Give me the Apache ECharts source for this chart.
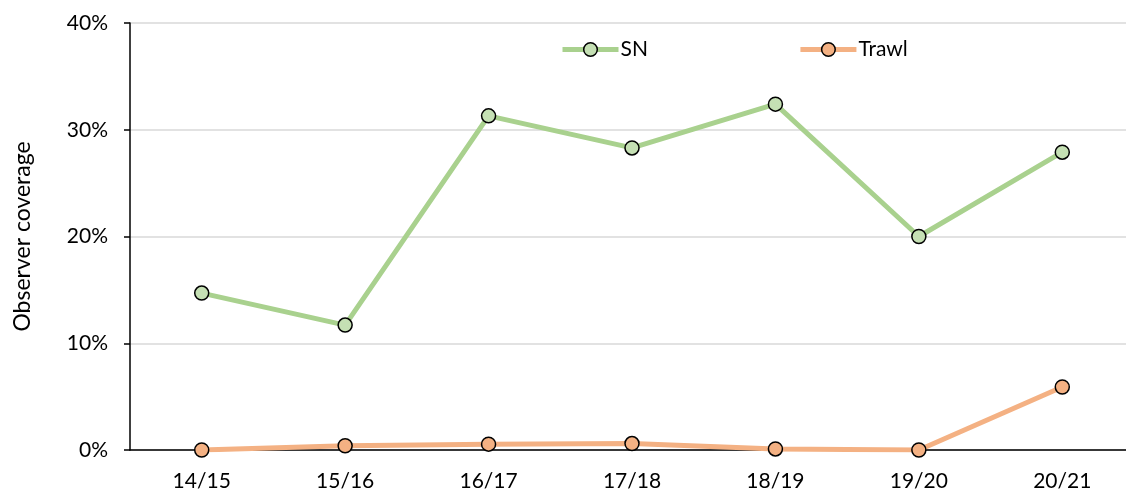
<!DOCTYPE html>
<html>
<head>
<meta charset="utf-8">
<script src="https://cdn.jsdelivr.net/npm/echarts@6/dist/echarts.min.js"></script>
<style>
  html, body { margin: 0; padding: 0; background: #fff; }
  #chart { width: 1126px; height: 494px; }
</style>
</head>
<body>
<div id="chart"></div>
<script>
// seasons on the x axis
var seasons = ["14/15", "15/16", "16/17", "17/18", "18/19", "19/20", "20/21"];
// observer coverage, percent
var snValues = [14.7, 11.7, 31.3, 28.3, 32.4, 20.0, 27.9];
var trawlValues = [0.0, 0.4, 0.55, 0.6, 0.1, 0.0, 5.9];
var yTicks = [0, 10, 20, 30, 40];

var font = "Lato, 'Open Sans', sans-serif";

var myChart = echarts.init(document.getElementById("chart"), null, { renderer: "canvas" });

function lineSeries(name, values, lineColor, dotColor) {
    return {
        name: name,
        type: "line",
        data: values,
        symbol: "circle",
        symbolSize: 14,
        lineStyle: { color: lineColor, width: 5 },
        itemStyle: { color: dotColor, borderColor: "#000", borderWidth: 1.5 },
        emphasis: { disabled: true },
        animation: false
    };
}

var option = {
    backgroundColor: "#fff",
    // plot runs a little past the right edge, like the cropped original
    grid: { left: 130, right: -8, top: 23, bottom: 44, outerBoundsMode: "none", containLabel: false },
    legend: {
        top: 34,
        left: 555,
        itemGap: 150,
        itemWidth: 56,
        itemHeight: 17,
        lineStyle: { width: 5 },
        itemStyle: { borderColor: "#000", borderWidth: 1.5 },
        textStyle: { fontFamily: font, fontSize: 21, color: "#000", padding: [0, 0, 0, -3] },
        data: ["SN", "Trawl"]
    },
    xAxis: {
        type: "category",
        data: seasons,
        boundaryGap: true,
        axisLine: { lineStyle: { color: "#000", width: 1.5 } },
        axisTick: { show: false },
        axisLabel: { fontFamily: font, fontSize: 21, color: "#000", margin: 21 },
        splitLine: { show: false }
    },
    yAxis: {
        type: "value",
        min: 0,
        max: 40,
        interval: 10,
        name: "Observer coverage",
        nameLocation: "middle",
        nameGap: 96,
        nameTextStyle: { fontFamily: font, fontSize: 23, color: "#000" },
        axisLine: { show: true, lineStyle: { color: "#000", width: 1.5 } },
        axisTick: { show: true, length: 6, lineStyle: { color: "#000", width: 1.5 } },
        axisLabel: {
            fontFamily: font, fontSize: 21, color: "#000", margin: 22,
            formatter: function (v) { return yTicks.indexOf(v) >= 0 ? v + "%" : ""; }
        },
        splitLine: { lineStyle: { color: "#d9d9d9", width: 1.5 } }
    },
    series: [
        lineSeries("SN", snValues, "#a9d18e", "#c5e0b4"),
        lineSeries("Trawl", trawlValues, "#f4b183", "#f4b183")
    ]
};

myChart.setOption(option);
</script>
</body>
</html>
